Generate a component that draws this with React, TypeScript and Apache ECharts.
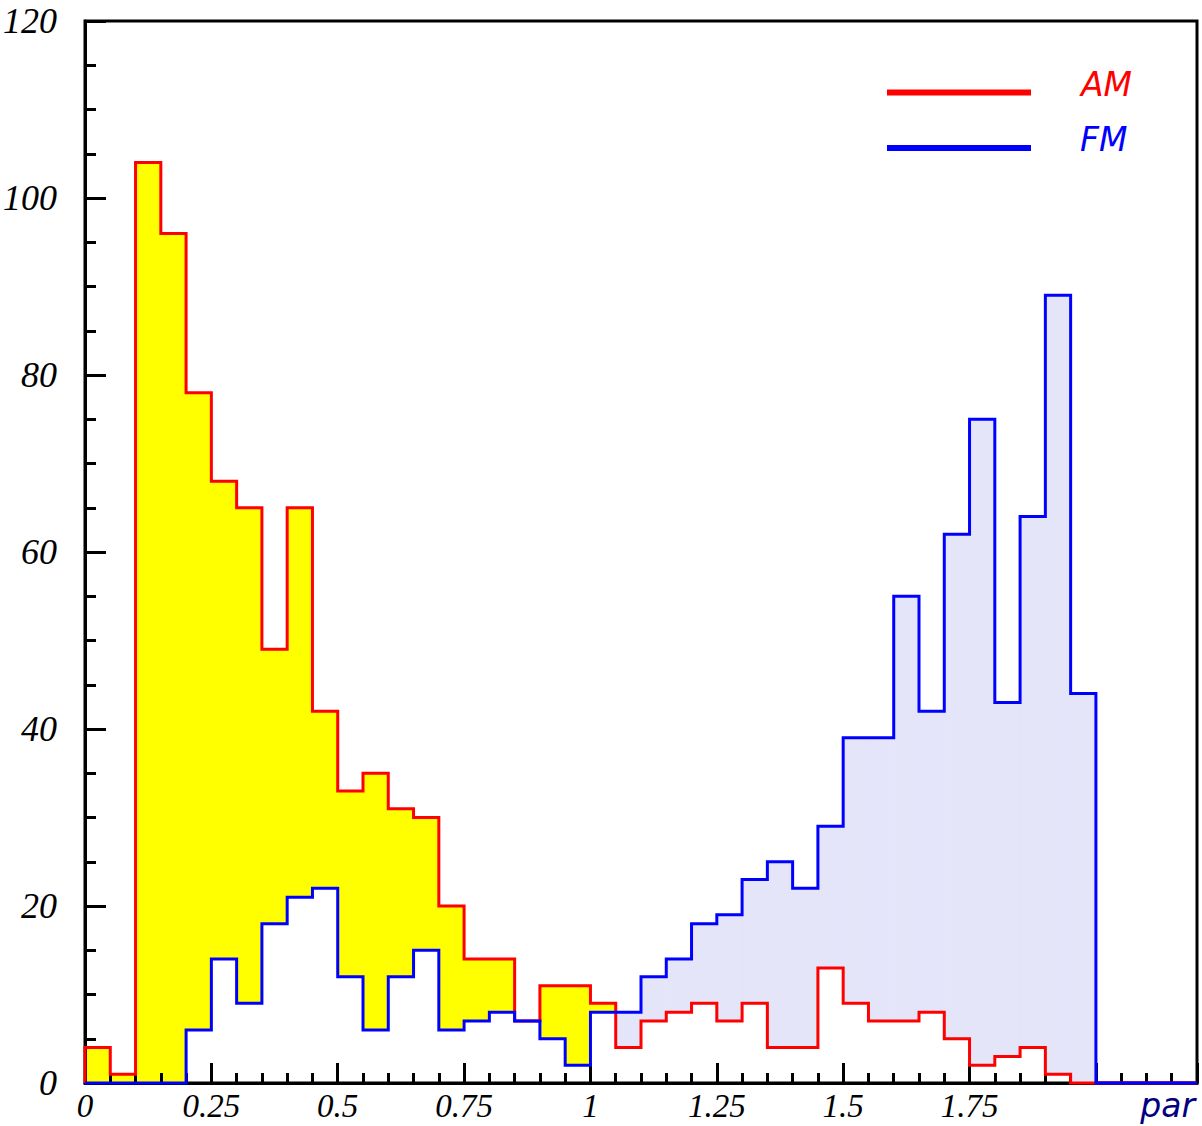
import React, { useEffect, useRef } from "react";
import * as echarts from "echarts";

// Histogram binning: 44 bins of width 0.05 covering par = 0 .. 2.2
const binWidth = 0.05;
const xMin = 0;
const xMax = 2.2;

// Entries per bin
const amCounts = [
  4, 1, 104, 96, 78, 68, 65, 49, 65, 42,
  33, 35, 31, 30, 20, 14, 14, 7, 11, 11,
  9, 4, 7, 8, 9, 7, 9, 4, 4, 13,
  9, 7, 7, 8, 5, 2, 3, 4, 1, 0,
  0, 0, 0, 0,
];
const fmCounts = [
  0, 0, 0, 0, 6, 14, 9, 18, 21, 22,
  12, 6, 12, 15, 6, 7, 8, 7, 5, 2,
  8, 8, 12, 14, 18, 19, 23, 25, 22, 29,
  39, 39, 55, 42, 62, 75, 43, 64, 89, 44,
  0, 0, 0, 0,
];

const seriesNames = ["AM", "FM"];
const yMax = 120;
const yStep = 20;
const xStep = 0.25;
const lastLabelledX = 1.75;

const RED = "#ff0000";
const BLUE = "#0000ff";
const YELLOW = "#ffff00";
const LAVENDER = "#e5e5fa";

const edge = (i: number) => +(xMin + i * binWidth).toFixed(4);

// Outline of a histogram as a polyline through the bin edges
function stepOutline(counts: number[]): number[][] {
  const pts: number[][] = [[edge(0), 0]];
  counts.forEach((c, i) => {
    pts.push([edge(i), c], [edge(i + 1), c]);
  });
  return pts;
}

// One band per bin between the two histograms
const bandData = amCounts.map((a, i) => [edge(i), edge(i + 1), a, fmCounts[i]]);

const serifItalic = {
  fontFamily: "Liberation Serif",
  fontStyle: "italic" as const,
  fontSize: 36,
  color: "#000",
};

export default function App() {
  const ref = useRef<HTMLDivElement>(null);

  useEffect(() => {
    if (!ref.current) return;
    const chart = echarts.init(ref.current, undefined, { renderer: "svg" });

    const option: any = {
      animation: false,
      backgroundColor: "#ffffff",
      grid: {
        left: 84,
        right: 5,
        top: 21,
        bottom: 43,
        show: true,
        borderColor: "#000",
        borderWidth: 3,
        backgroundColor: "transparent",
      },
      xAxis: [
        {
          type: "value",
          min: xMin,
          max: xMax,
          interval: binWidth,
          z: 2,
          axisLine: { show: true, onZero: false, lineStyle: { color: "#000", width: 3 } },
          axisTick: { show: true, inside: true, length: 10, lineStyle: { color: "#000", width: 3 } },
          axisLabel: { show: false },
          splitLine: { show: false },
        },
        {
          type: "value",
          position: "bottom",
          min: xMin,
          max: xMax,
          interval: xStep,
          z: 2,
          axisLine: { show: false, onZero: false },
          axisTick: { show: true, inside: true, length: 20, lineStyle: { color: "#000", width: 3 } },
          axisLabel: {
            ...serifItalic,
            fontSize: 33,
            lineHeight: 30,
            margin: 8,
            formatter: (v: number) => (v > lastLabelledX + 1e-6 ? "" : String(+v.toFixed(2))),
          },
          splitLine: { show: false },
        },
      ],
      yAxis: {
        type: "value",
        min: 0,
        max: yMax,
        interval: yStep,
        z: 2,
        axisLine: { show: true, onZero: false, lineStyle: { color: "#000", width: 3 } },
        axisTick: { show: true, inside: true, length: 21, lineStyle: { color: "#000", width: 3 } },
        minorTick: { show: true, splitNumber: 4, length: 11, lineStyle: { color: "#000", width: 3 } },
        axisLabel: { ...serifItalic, margin: 28 },
        splitLine: { show: false },
      },
      series: [
        {
          type: "custom",
          name: "band",
          z: 1,
          xAxisIndex: 0,
          yAxisIndex: 0,
          data: bandData,
          encode: { x: [0, 1], y: [2, 3] },
          renderItem: (_params: any, api: any) => {
            const x0 = api.value(0);
            const x1 = api.value(1);
            const a = api.value(2);
            const f = api.value(3);
            if (a === f) return null;
            const hi = Math.max(a, f);
            const lo = Math.min(a, f);
            const p0 = api.coord([x0, hi]);
            const p1 = api.coord([x1, lo]);
            const color = a > f ? YELLOW : LAVENDER;
            return {
              type: "rect",
              shape: { x: p0[0], y: p0[1], width: p1[0] - p0[0], height: p1[1] - p0[1] },
              style: { fill: color, stroke: color, lineWidth: 0.8 },
            };
          },
        },
        {
          type: "line",
          name: seriesNames[0],
          z: 3,
          xAxisIndex: 0,
          yAxisIndex: 0,
          data: stepOutline(amCounts),
          showSymbol: false,
          symbol: "none",
          clip: false,
          color: RED,
          lineStyle: { color: RED, width: 3, join: "miter", cap: "butt" },
        },
        {
          type: "line",
          name: seriesNames[1],
          z: 4,
          xAxisIndex: 0,
          yAxisIndex: 0,
          data: stepOutline(fmCounts),
          showSymbol: false,
          symbol: "none",
          clip: false,
          color: BLUE,
          lineStyle: { color: BLUE, width: 3, join: "miter", cap: "butt" },
        },
      ],
      graphic: [
        {
          type: "line",
          z: 20,
          shape: { x1: 887, y1: 92.5, x2: 1031, y2: 92.5 },
          style: { stroke: RED, lineWidth: 6 },
        },
        {
          type: "text",
          z: 20,
          x: 1081,
          y: 84,
          style: {
            text: seriesNames[0],
            fill: RED,
            fontFamily: "DejaVu Sans",
            fontStyle: "italic",
            fontSize: 33,
            align: "left",
            verticalAlign: "middle",
          },
        },
        {
          type: "line",
          z: 20,
          shape: { x1: 887, y1: 148, x2: 1031, y2: 148 },
          style: { stroke: BLUE, lineWidth: 6 },
        },
        {
          type: "text",
          z: 20,
          x: 1080,
          y: 139,
          style: {
            text: seriesNames[1],
            fill: BLUE,
            fontFamily: "DejaVu Sans",
            fontStyle: "italic",
            fontSize: 33,
            align: "left",
            verticalAlign: "middle",
          },
        },
        {
          type: "text",
          z: 20,
          x: 1195,
          y: 1105,
          style: {
            text: "par",
            fill: "#000080",
            fontFamily: "DejaVu Sans",
            fontStyle: "italic",
            fontSize: 33,
            align: "right",
            verticalAlign: "middle",
          },
        },
      ],
    };

    chart.setOption(option);
    return () => chart.dispose();
  }, []);

  return (
    <div
      ref={ref}
      style={{ position: "absolute", left: 0, top: 0, width: 1202, height: 1126 }}
    />
  );
}
